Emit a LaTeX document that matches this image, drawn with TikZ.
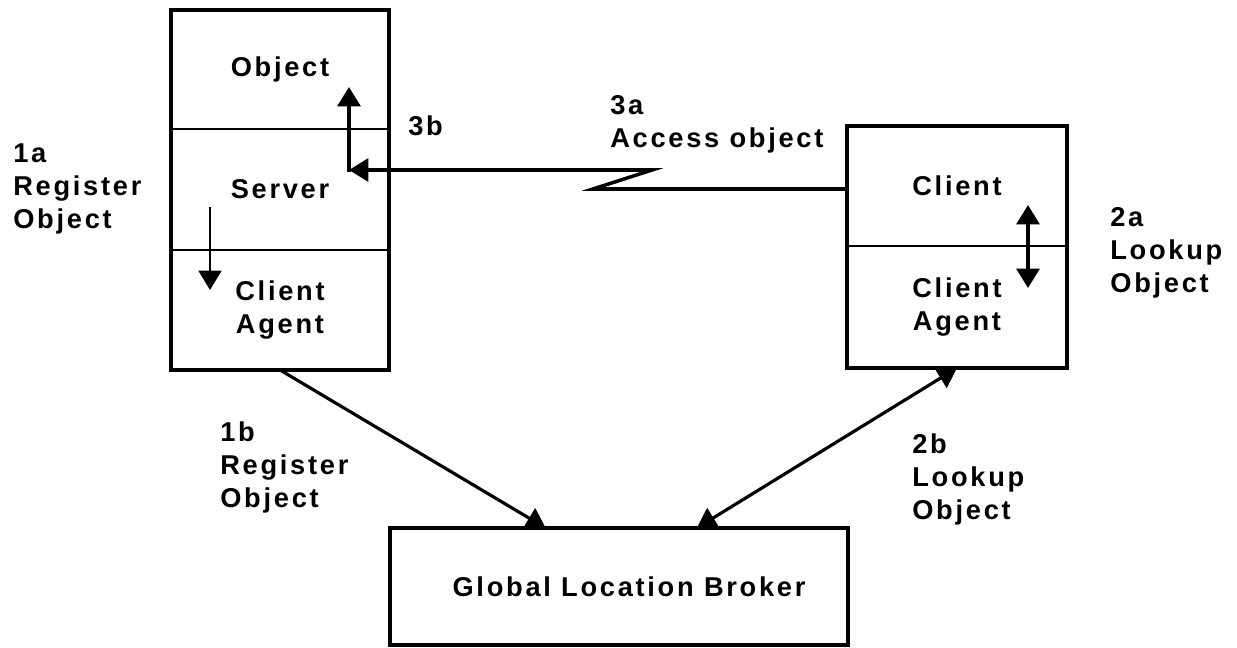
\documentclass[tikz,border=0pt]{standalone}
\usepackage{fontspec}
\setmainfont{Liberation Sans}[LetterSpace=10]
\usetikzlibrary{positioning,arrows.meta,calc}

\tikzset{
	section/.style={rectangle, inner sep=0pt, outer sep=0pt, align=center},
	frame/.style={line width=2pt},
	divider/.style={line width=0.9pt},
	arr/.style={line width=1.8pt, -{Triangle[length=11pt,width=13pt]}},
	dblarr/.style={line width=1.8pt, {Triangle[length=11pt,width=13pt]}-{Triangle[length=11pt,width=13pt]}},
	steplabel/.style={anchor=north west, inner sep=0pt, align=left}
}

\begin{document}
\begin{tikzpicture}[x=0.02cm, y=-0.02cm, font=\bfseries\fontsize{15.5}{18.8}\selectfont]
	\useasboundingbox (0,0) rectangle (1237,648);
	\def\leftW{4.36cm} % width of the server box
	\def\rightW{4.4cm} % width of the client box
	
	% Server side box
	\node[section, minimum width=\leftW, minimum height=2.38cm] (obj) at (280,69.5) {Object};
	\node[section, minimum width=\leftW, minimum height=2.42cm, below=0pt of obj] (srv) {Server};
	\node[section, minimum width=\leftW, minimum height=2.4cm, below=0pt of srv] (lagent) {Client\\Agent};
	\draw[frame] (obj.north west) rectangle (lagent.south east);
	\draw[divider] (obj.south west) -- (obj.south east);
	\draw[divider] (srv.south west) -- (srv.south east);
	
	% Client side box
	\node[section, minimum width=\rightW, minimum height=2.4cm] (cli) at (957,186) {Client};
	\node[section, minimum width=\rightW, minimum height=2.44cm, below=0pt of cli] (ragent) {Client\\Agent};
	\draw[frame] (cli.north west) rectangle (ragent.south east);
	\draw[divider] (cli.south west) -- (cli.south east);
	
	% Broker
	\node[section, draw, frame, minimum width=9.16cm, minimum height=2.34cm] (glb) at (619,586.5) {\hspace*{0.4cm}Global Location Broker};
	
	% Step labels
	\node[steplabel] (l1a) at (13,143) {1a\\Register\\Object};
	\node[steplabel] (l3b) at (408,115) {3b};
	\node[steplabel] (l3a) at (610,95) {3a\\Access object};
	\node[steplabel] (l2a) at (1110,207) {2a\\Lookup\\Object};
	\node[steplabel] (l1b) at (220,421) {1b\\Register\\Object};
	\node[steplabel] (l2b) at (912,433) {2b\\Lookup\\Object};
	
	% Points for the connectors
	\coordinate (zzlow) at (593,189);
	\coordinate (zzhigh) at (652,170);
	\coordinate (bend) at (349,170);
	\coordinate (objin) at (349,87);
	\coordinate (regtop) at (210,207);
	\coordinate (regend) at (210,290);
	\coordinate (lkup) at (1028,205);
	\coordinate (lkdn) at (1028,288);
	
	% Access object (3a, 3b)
	\draw[arr, line width=2pt] (cli.west |- zzlow) -- (zzlow) -- (zzhigh) -- (bend);
	\draw[arr, line width=2pt] ([yshift=-1pt]bend) -- (objin);
	
	% Register and lookup inside the boxes (1a, 2a)
	\draw[arr, line width=1.3pt] (regtop) -- (regend);
	\draw[dblarr, line width=2pt] (lkup) -- (lkdn);
	
	% Register and lookup at the broker (1b, 2b)
	\draw[arr] (lagent.south) -- ($(glb.north west)!0.34!(glb.north east)$);
	\draw[dblarr] ($(glb.north west)!0.67!(glb.north east)$) -- (ragent.south);
\end{tikzpicture}
\end{document}
